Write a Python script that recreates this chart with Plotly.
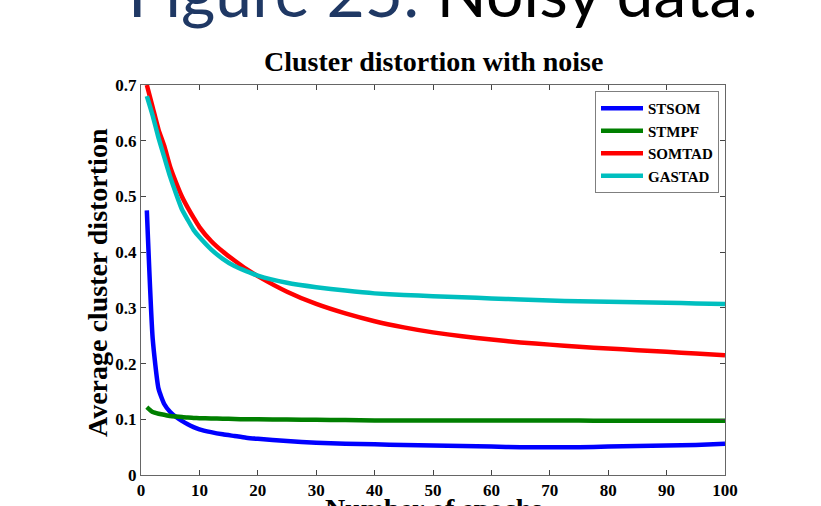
import plotly.graph_objects as go

epochs = [1, 2, 3, 4, 5, 6, 7, 8, 9, 10, 12, 14, 16, 18, 20, 25, 30, 35, 40, 45,
          50, 55, 60, 65, 70, 75, 80, 85, 90, 95, 100]

stsom = [0.475, 0.245, 0.155, 0.127, 0.113, 0.104, 0.097, 0.091, 0.086, 0.082,
         0.077, 0.073, 0.070, 0.067, 0.065, 0.061, 0.058, 0.056, 0.055, 0.054,
         0.053, 0.052, 0.051, 0.050, 0.050, 0.050, 0.051, 0.052, 0.053, 0.054, 0.056]

stmpf = [0.122, 0.113, 0.110, 0.108, 0.106, 0.105, 0.104, 0.103, 0.1025, 0.102,
         0.1015, 0.101, 0.1005, 0.100, 0.100, 0.0995, 0.099, 0.0985, 0.098, 0.098,
         0.098, 0.098, 0.098, 0.098, 0.0978, 0.0976, 0.0975, 0.0975, 0.0975, 0.0975, 0.0975]

somtad = [0.700, 0.660, 0.620, 0.590, 0.553, 0.525, 0.500, 0.480, 0.462, 0.445,
          0.420, 0.401, 0.385, 0.370, 0.357, 0.329, 0.307, 0.290, 0.276, 0.265,
          0.256, 0.249, 0.243, 0.238, 0.234, 0.230, 0.227, 0.224, 0.221, 0.218, 0.215]

gastad = [0.680, 0.645, 0.605, 0.570, 0.535, 0.505, 0.477, 0.458, 0.440, 0.427,
          0.405, 0.388, 0.375, 0.366, 0.358, 0.345, 0.337, 0.331, 0.326, 0.323,
          0.321, 0.319, 0.317, 0.315, 0.313, 0.312, 0.311, 0.310, 0.309, 0.308, 0.307]

series = [
    ("STSOM", stsom, "#0000FF"),
    ("STMPF", stmpf, "#007F00"),
    ("SOMTAD", somtad, "#FF0000"),
    ("GASTAD", gastad, "#00BFBF"),
]

x_ticks = list(range(0, 101, 10))
y_ticks = [0, 0.1, 0.2, 0.3, 0.4, 0.5, 0.6, 0.7]
y_tick_text = ["0", "0.1", "0.2", "0.3", "0.4", "0.5", "0.6", "0.7"]

serif = "Liberation Serif"

fig = go.Figure()
for name, vals, color in series:
    fig.add_trace(go.Scatter(x=epochs, y=vals, mode="lines", name=name,
                             line=dict(color=color, width=4.5, shape="spline", smoothing=0.5)))

W, H = 821, 506
L, R, T, B = 141, 725, 85, 475

def px_x(p):
    return (p - L) / (R - L)

def px_y(p):
    return (B - p) / (B - T)

fig.update_layout(
    width=W, height=H,
    margin=dict(l=L, r=W - R, t=T, b=H - B, pad=0, autoexpand=False),
    paper_bgcolor="white", plot_bgcolor="white",
    showlegend=True,
    legend=dict(x=px_x(719), y=px_y(91), xanchor="right", yanchor="top",
                bgcolor="white", bordercolor="#7f7f7f", borderwidth=1,
                font=dict(family=serif, size=15, color="black", weight="bold"),
                tracegroupgap=0, itemwidth=42),
    xaxis=dict(range=[0, 100], tickvals=x_ticks, ticks="inside", ticklen=5, tickcolor="#444",
               showline=True, linecolor="#666", linewidth=1, mirror="ticks", showgrid=False,
               zeroline=False, ticklabelstandoff=0, automargin=False,
               tickfont=dict(family=serif, size=17, color="black", weight="bold")),
    yaxis=dict(range=[0, 0.7], tickvals=y_ticks, ticktext=y_tick_text, ticks="inside", ticklen=5,
               tickcolor="#444", showline=True, linecolor="#666", linewidth=1, mirror="ticks",
               showgrid=False, zeroline=False, automargin=False,
               tickfont=dict(family=serif, size=17, color="black", weight="bold")),
)

annotations = [
    dict(text="Cluster distortion with noise", x=0.5, y=px_y(61), xref="paper", yref="paper",
         xanchor="center", yanchor="middle", showarrow=False,
         font=dict(family=serif, size=28, color="black", weight="bold")),
    dict(text="Average cluster distortion", x=px_x(97), y=px_y(283),
         xref="paper", yref="paper", xanchor="center", yanchor="middle", showarrow=False, textangle=-90,
         font=dict(family=serif, size=28, color="black", weight="bold")),
    dict(text="Number of epochs", x=0.5, y=px_y(491), xref="paper", yref="paper",
         xanchor="center", yanchor="top", showarrow=False,
         font=dict(family=serif, size=28, color="black", weight="bold")),
    dict(text="<span style='color:#1F3864'>Figure 25:</span> Noisy data.",
         x=px_x(126), y=px_y(33), xref="paper", yref="paper",
         xanchor="left", yanchor="bottom", showarrow=False,
         font=dict(family="Lato", size=66, color="black")),
]
fig.update_layout(annotations=annotations)

fig.write_html("out.html")
